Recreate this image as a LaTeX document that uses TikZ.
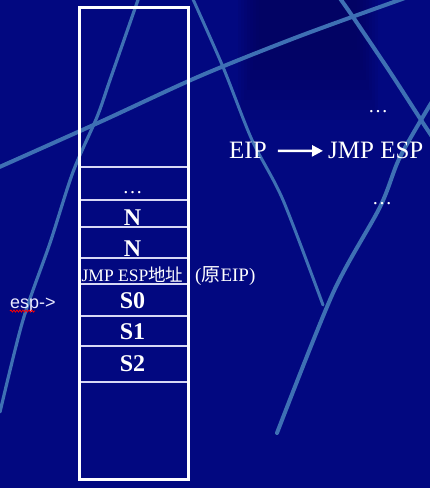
\documentclass[tikz,border=0pt]{standalone}
\usepackage{fontspec}
\setmainfont{Liberation Serif}
\newfontfamily\cjk{Noto Sans CJK SC}
\newfontfamily\sansf{Liberation Sans}
\usetikzlibrary{arrows.meta,decorations.pathmorphing}
\definecolor{bg}{RGB}{2,8,128}
\definecolor{bgdark}{RGB}{2,3,80}
\definecolor{streak}{RGB}{62,112,180}
\definecolor{cellline}{RGB}{215,215,245}
\tikzset{
  streakline/.style={draw=streak, line cap=round, line width=#1},
  celltext/.style={text=white, anchor=base, inner sep=0pt, font=\bfseries\fontsize{24}{24}\selectfont},
  plaintext/.style={text=white, anchor=base, inner sep=0pt},
  arr/.style={draw=white, line width=2.4pt, -{Triangle[length=11pt,width=11pt]}},
}
\begin{document}
\begin{tikzpicture}[x=1pt,y=-1pt]
\useasboundingbox (0,0) rectangle (430,488);
\fill[bg] (0,0) rectangle (430,488);
% soft darker patch at the top
\foreach \i in {0,...,7}
  \fill[bgdark, opacity=0.09] (238+3*\i,-2) rectangle (378-3*\i,120-10*\i);
% background streaks
\draw[streakline=4pt] plot[smooth] coordinates {(-5,169) (100,122) (200,76) (300,36) (405,-2)};
\draw[streakline=3.2pt] plot[smooth] coordinates {(139,-3) (110,80) (97,117) (73,172) (50,243) (23,320) (0,412)};
\draw[streakline=3pt] plot[smooth] coordinates {(192,-3) (223,67) (252,140) (283,200) (323,305)};
\draw[streakline=4pt] plot[smooth] coordinates {(339,-3) (353,17) (390,72) (423,123) (433,138)};
\draw[streakline=4pt] plot[smooth] coordinates {(433,100) (400,157) (380,207) (333,293) (277,433)};
% stack box
\draw[white, line width=3pt] (79,7) rectangle (188,479);
\foreach \yy in {167,200,227,258,284,316,346,382}
  \draw[cellline, line width=1.4pt] (80.5,\yy) -- (186.5,\yy);
\node[plaintext, font=\fontsize{20}{20}\selectfont] (dots) at (132.5,193) {…};
\node[celltext] (n1) at (132.5,225) {N};
\node[celltext] (n2) at (132.5,256) {N};
\node[plaintext, font=\fontsize{17.5}{17.5}\selectfont] (jmpaddr) at (132.5,281) {JMP ESP{\cjk 地址}};
\node[celltext] (s0) at (132.5,308) {S0};
\node[celltext] (s1) at (132.5,339) {S1};
\node[celltext] (s2) at (132.5,371) {S2};
\node[plaintext, anchor=base west, font=\fontsize{19}{19}\selectfont] (orig) at (195,281) {({\cjk 原}EIP)};
\node[plaintext, anchor=base west, text=white!92!blue, font=\sansf\fontsize{18}{18}\selectfont] (esp) at (10,308) {esp->};
\draw[red, line width=0.8pt, decorate, decoration={snake, amplitude=1pt, segment length=3pt}] ([yshift=-3pt]esp.base west) -- ++(25,0);
% right side
\node[plaintext, anchor=base west, font=\fontsize{25}{25}\selectfont] (eip) at (229,158) {EIP};
\node[plaintext, anchor=base west, font=\fontsize{25}{25}\selectfont] (jmp) at (328,158) {JMP ESP};
\draw[arr] ([xshift=11pt,yshift=-1pt]eip.east) -- ([xshift=-5pt,yshift=-1pt]jmp.west);
\node[plaintext, font=\fontsize{20}{20}\selectfont] (dotsa) at (378,112) {…};
\node[plaintext, font=\fontsize{20}{20}\selectfont] (dotsb) at (382,204) {…};
\end{tikzpicture}
\end{document}
